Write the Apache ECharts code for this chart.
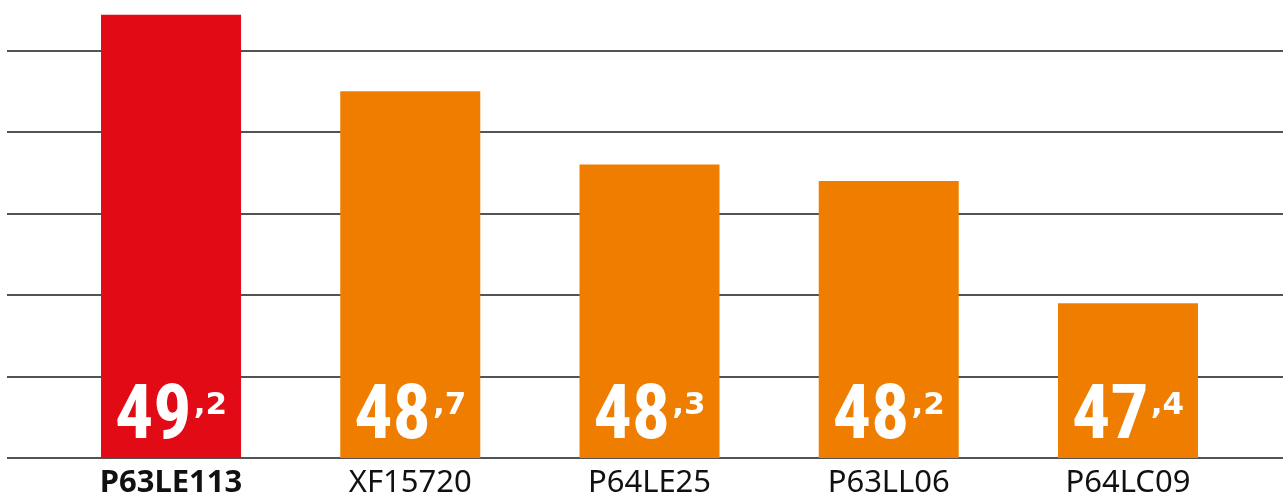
<!DOCTYPE html>
<html>
<head>
<meta charset="utf-8">
<script src="https://cdn.jsdelivr.net/npm/echarts@6/dist/echarts.min.js"></script>
<style>
    html, body { margin: 0; padding: 0; background: #fff; }
    #chart { width: 1283px; height: 499px; }
</style>
</head>
<body>
<div id="chart"></div>
<script>
// 型号
const categories = ['P63LE113', 'XF15720', 'P64LE25', 'P63LL06', 'P64LC09'];
// 柱子高度
const barValues = [49.22, 48.75, 48.3, 48.2, 47.45];
// 柱子里显示的数字
const shownValues = ['49,2', '48,7', '48,3', '48,2', '47,4'];
// 网格线刻度
const yTicks = [46.5, 47, 47.5, 48, 48.5, 49];

const RED = '#e20a14';
const ORANGE = '#ef7e00';
const textFont = "'Noto Sans', 'Open Sans', sans-serif";
const numFont = "'Liberation Sans Narrow', 'Roboto Condensed', 'DejaVu Sans Condensed', sans-serif";
const supFont = "'DejaVu Sans', sans-serif";

const yMin = yTicks[0];
const yMax = yTicks[yTicks.length - 1];
const yStep = yTicks[1] - yTicks[0];
// 柱子所在网格往上多留一点，最高的柱子超出最上面的横线
const barTopValue = 49.25;
const pxPerUnit = (458 - 50.5) / (yMax - yMin);

const option = {
    animation: false,
    grid: [
        // 柱子
        { left: 51.4, right: 35.4, top: 50.5 - (barTopValue - yMax) * pxPerUnit, bottom: 41 },
        // 横线，铺满整个宽度
        { left: 7, right: 0, top: 50.5, bottom: 41 }
    ],
    xAxis: [{
        type: 'category',
        gridIndex: 0,
        data: categories,
        axisLine: { show: false },
        axisTick: { show: false },
        axisLabel: {
            margin: 10,
            formatter: function (value, index) {
                return index === 0 ? '{b|' + value + '}' : '{n|' + value + '}';
            },
            rich: {
                b: { fontFamily: textFont, fontSize: 31, fontWeight: 'bold', color: '#111' },
                n: { fontFamily: textFont, fontSize: 31, color: '#111' }
            }
        }
    }, {
        type: 'value',
        gridIndex: 1,
        show: false,
        min: 0,
        max: 1
    }],
    yAxis: [{
        type: 'value',
        gridIndex: 0,
        min: yMin,
        max: barTopValue,
        show: false,
        splitLine: { show: false }
    }, {
        type: 'value',
        gridIndex: 1,
        min: yMin,
        max: yMax,
        interval: yStep,
        axisLine: { show: false },
        axisTick: { show: false },
        axisLabel: { show: false },
        splitLine: { show: true, lineStyle: { color: '#1a1a1a', width: 1.5 } }
    }],
    series: [{
        type: 'bar',
        xAxisIndex: 0,
        yAxisIndex: 0,
        barWidth: 140,
        clip: true,
        data: barValues.map(function (v, i) {
            return { value: v, itemStyle: { color: i === 0 ? RED : ORANGE } };
        }),
        label: {
            show: true,
            position: 'insideBottom',
            distance: 1,
            formatter: function (p) {
                const parts = shownValues[p.dataIndex].split(',');
                return '{a|' + parts[0] + '}{c|,' + parts[1] + '}';
            },
            rich: {
                a: { fontFamily: numFont, fontSize: 76, fontWeight: 'bold', color: '#fff', lineHeight: 76 },
                c: { fontFamily: supFont, fontSize: 31, fontWeight: 'bold', color: '#fff', verticalAlign: 'top', lineHeight: 31, padding: [9, 0, 0, 2] }
            }
        }
    }]
};

const chart = echarts.init(document.getElementById('chart'));
chart.setOption(option);
</script>
</body>
</html>
